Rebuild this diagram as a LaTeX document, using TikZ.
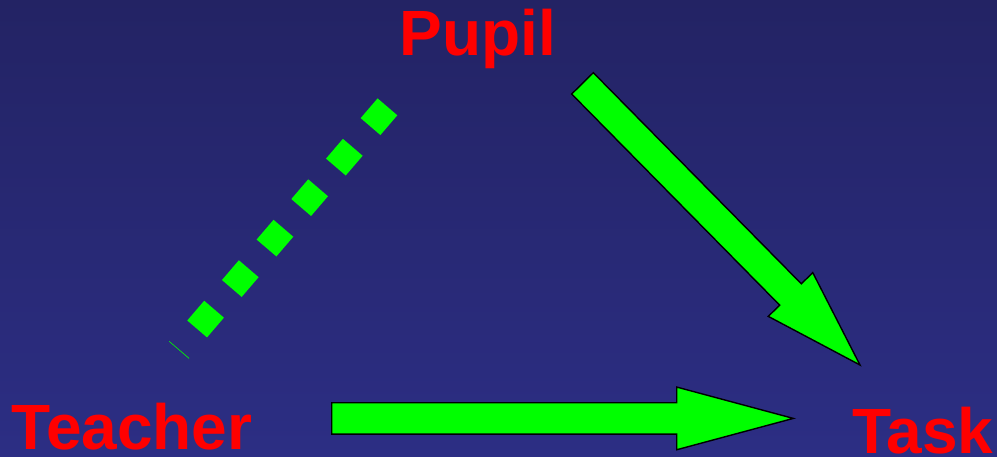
\documentclass[tikz,border=0pt]{standalone}
\usepackage{fontspec}
\setmainfont{Liberation Sans}
\usetikzlibrary{calc}

\definecolor{bgtop}{RGB}{35,35,100}
\definecolor{bgbot}{RGB}{44,46,132}
\definecolor{arrowgreen}{RGB}{0,255,0}
\definecolor{labelred}{RGB}{255,0,0}

% block arrow from #1 to #2: shaft half-width #3, head half-width #4, head length #5
\newcommand\blockarrow[5]{%
  \coordinate (ba-h) at ($(#2)!#5!(#1)$);
  \filldraw[fatarrow]
    ($(#1)!#3!90:(#2)$) -- ($(ba-h)!#3!90:(#2)$) -- ($(ba-h)!#4!90:(#2)$)
    -- (#2)
    -- ($(ba-h)!#4!-90:(#2)$) -- ($(ba-h)!#3!-90:(#2)$) -- ($(#1)!#3!-90:(#2)$)
    -- cycle;
}

\begin{document}
\begin{tikzpicture}[x=1pt,y=-1pt,
  label/.style={text=labelred, font=\bfseries\fontsize{64}{72}\selectfont,
                inner sep=0pt, anchor=base west},
  fatarrow/.style={fill=arrowgreen, draw=black, line width=1.4pt, line join=miter},
  dotted link/.style={draw=arrowgreen, line width=26pt, line cap=butt,
                      dash pattern=on 26pt off 27.3pt}]
  \useasboundingbox (0,0) rectangle (997,456);
  \shade[top color=bgtop, bottom color=bgbot] (0,0) rectangle (997,456);

  % labels
  \node[label] (pupil)   at (399.5,55)  {Pupil};
  \node[label] (teacher) at (11.5,449) {Teacher};
  \node[label] (task)    at (852,453) {Task};

  % arrow end points
  \coordinate (pt-tail) at (582.5,83.35);
  \coordinate (pt-tip)  at (860,365);
  \coordinate (tt-tail) at (331.7,418.4);
  \coordinate (tt-tip)  at (793.3,418.4);
  \coordinate (tp-a)    at (387.46,106.83);
  \coordinate (tp-b)    at (178.98,350.14);

  % pupil -> task
  \blockarrow{pt-tail}{pt-tip}{15.2pt}{31.2pt}{99pt}
  % teacher -> task
  \blockarrow{tt-tail}{tt-tip}{15.65pt}{31.35pt}{116.6pt}
  % teacher -- pupil, broken link
  \draw[dotted link] (tp-a) -- (tp-b);
\end{tikzpicture}
\end{document}
